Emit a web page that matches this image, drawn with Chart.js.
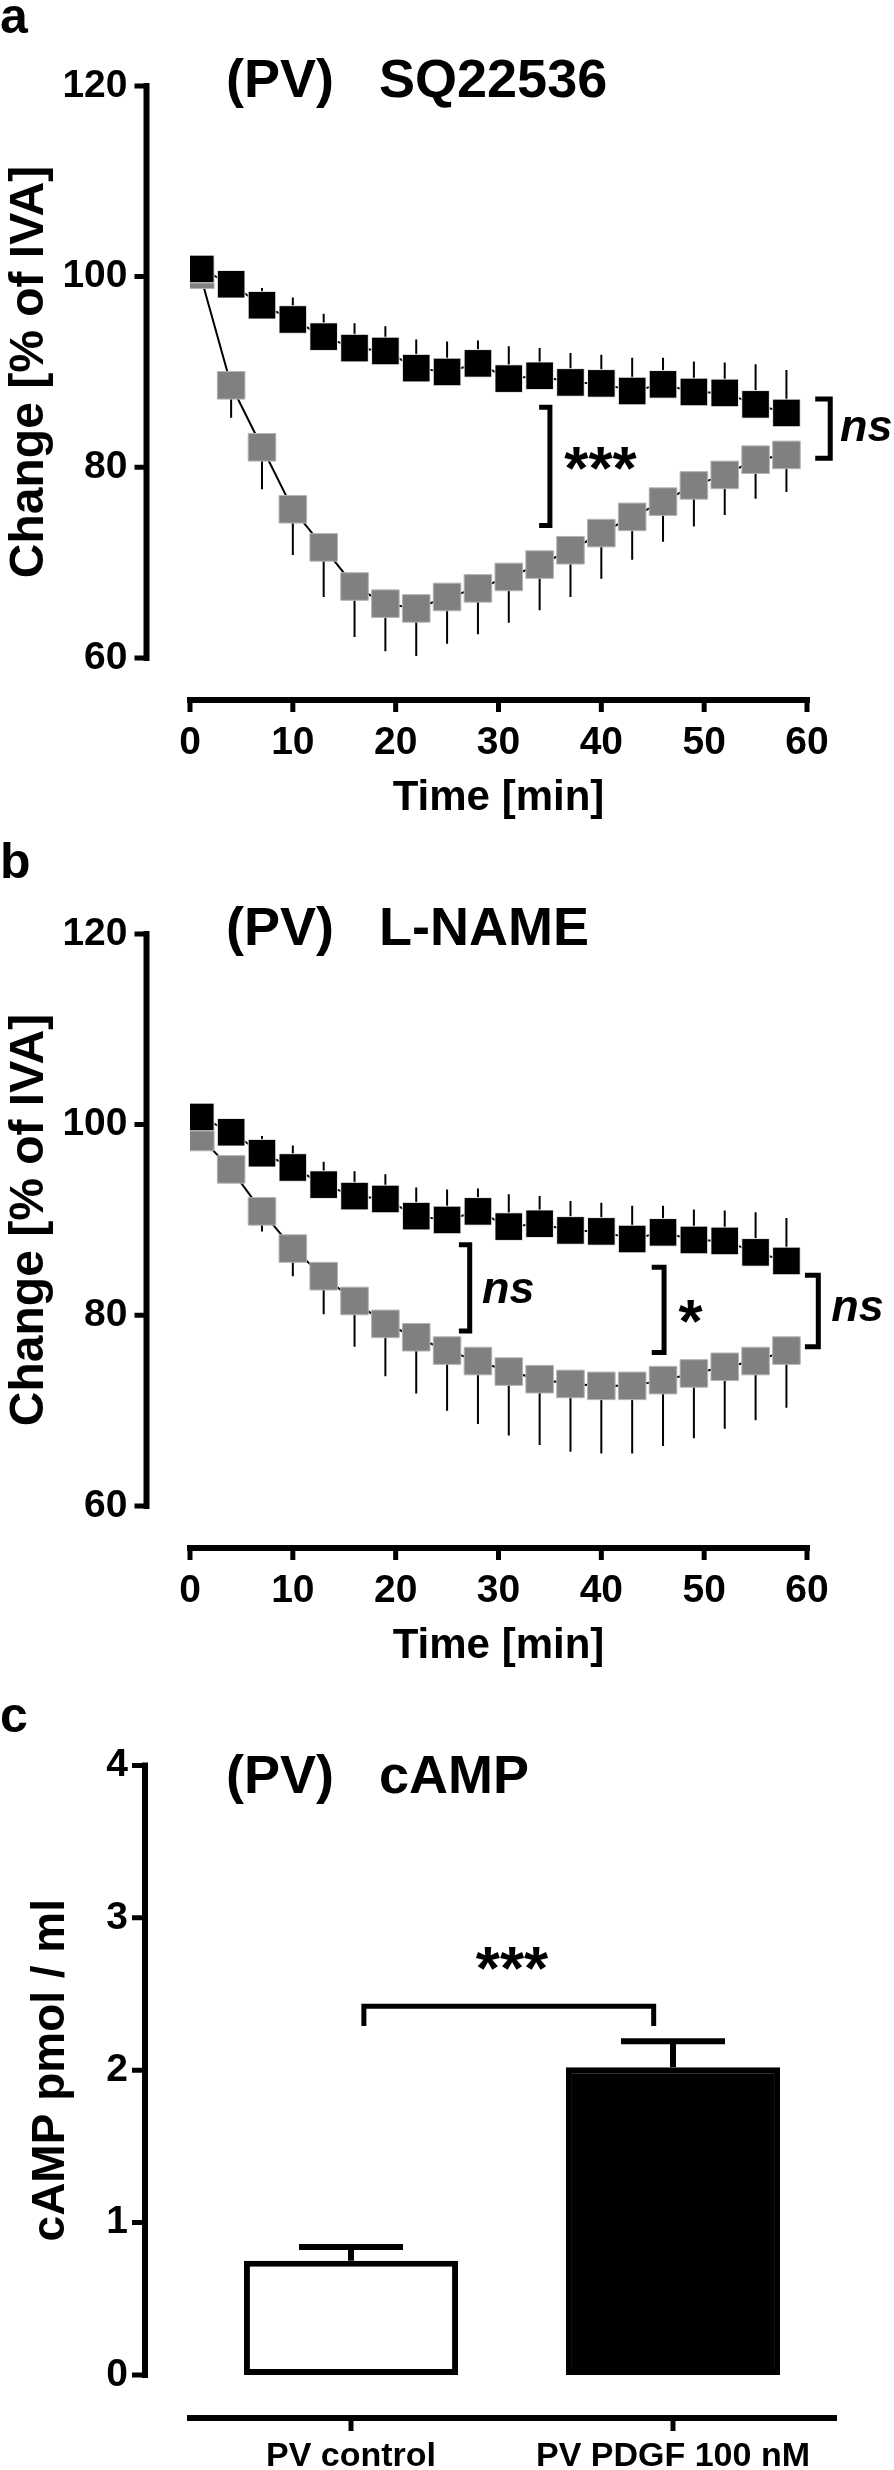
<!DOCTYPE html>
<html>
<head>
<meta charset="utf-8">
<script src="https://cdn.jsdelivr.net/npm/chart.js@4.4.1/dist/chart.umd.min.js"></script>
<style>
  html, body { margin: 0; padding: 0; background: #fff; }
  body {
    width: 894px; height: 2470px; position: relative; overflow: hidden;
    font-family: "Liberation Sans", Arial, Helvetica, sans-serif;
  }
  canvas { position: absolute; left: 0; }
  .letter, .ptitle {
    position: absolute; font-weight: bold; color: #000;
    white-space: pre; line-height: 1;
  }
  .letter { font-size: 50px; left: 0; }
  .ptitle { font-size: 54px; left: 226px; }
</style>
</head>
<body>
<div class="letter" style="top:-9px">a</div>
<div class="ptitle" style="top:51px">(PV)   SQ22536</div>
<canvas id="chartA" width="894" height="848" style="top:0"></canvas>

<div class="letter" style="top:836px">b</div>
<div class="ptitle" style="top:899px">(PV)   L-NAME</div>
<canvas id="chartB" width="894" height="848" style="top:848px"></canvas>

<div class="letter" style="top:1690px">c</div>
<div class="ptitle" style="top:1747px">(PV)   cAMP</div>
<canvas id="chartC" width="894" height="790" style="top:1680px"></canvas>

<script>
// time points [min]
const times = [1, 4, 7, 10, 13, 16, 19, 22, 25, 28, 31, 34, 37, 40, 43, 46, 49, 52, 55, 58];

// PV + PDGF (black squares, upper SEM)
const pdgfMean = [100.8, 99.2, 97.0, 95.5, 93.7, 92.5, 92.2, 90.4, 90.0, 90.9, 89.3, 89.6, 88.9, 88.8, 88.0, 88.7, 87.9, 87.8, 86.6, 85.7];
const pdgfSem = [1.0, 1.2, 1.8, 2.3, 2.4, 2.6, 2.6, 3.0, 3.2, 2.4, 3.4, 2.9, 3.1, 3.0, 3.5, 2.8, 3.2, 3.2, 4.2, 4.5];

// PDGF + SQ22536 (grey squares, lower SEM)
const sqMean = [100.2, 88.6, 82.1, 75.6, 71.6, 67.5, 65.7, 65.2, 66.4, 67.3, 68.5, 69.8, 71.3, 73.1, 74.8, 76.4, 78.1, 79.2, 80.8, 81.3];
const sqSem = [0.6, 3.4, 4.4, 4.8, 5.2, 5.3, 5.0, 5.0, 4.9, 4.8, 4.8, 4.8, 4.9, 4.8, 4.5, 4.2, 4.3, 4.2, 4.1, 3.9];

// PDGF + L-NAME (grey squares, lower SEM)
const lnameMean = [98.7, 95.3, 90.9, 87.0, 84.1, 81.5, 79.1, 77.7, 76.3, 75.2, 74.1, 73.3, 72.8, 72.6, 72.6, 73.2, 73.9, 74.6, 75.2, 76.3];
const lnameSem = [0.8, 1.2, 2.1, 2.9, 4.0, 4.8, 5.5, 5.9, 6.3, 6.6, 6.7, 6.9, 7.1, 7.1, 7.1, 6.9, 6.8, 6.5, 6.2, 6.0];

// cAMP bars
const campGroups = ["PV control", "PV PDGF 100 nM"];
const campMean = [0.75, 2.02];
const campSem = [0.09, 0.17];

// y ticks
const changeTicks = [60, 80, 100, 120];
const campTicks = [0, 1, 2, 3, 4];

// common font
Chart.defaults.font.family = '"Liberation Sans", Arial, Helvetica, sans-serif';
Chart.defaults.font.weight = "bold";
Chart.defaults.color = "#000";

// Prism style offset axes
const offsetAxes = {
  id: "offsetAxes",
  afterDraw(chart, args, opts) {
    const { ctx, chartArea, scales } = chart;
    const xs = scales.x;
    const ys = scales.y;
    const axisX = chartArea.left - opts.yGap;
    const axisY = chartArea.bottom + opts.xGap;
    const hw = opts.lineWidth / 2;
    ctx.save();
    ctx.strokeStyle = "#000";
    ctx.lineWidth = opts.lineWidth;
    ctx.beginPath();
    ctx.moveTo(axisX, ys.getPixelForValue(ys.max) - hw);
    ctx.lineTo(axisX, ys.getPixelForValue(ys.min) + hw);
    ctx.moveTo(chartArea.left - hw, axisY);
    ctx.lineTo(chartArea.right + hw, axisY);
    ctx.stroke();
    ctx.lineWidth = opts.tickWidth;
    ctx.beginPath();
    ys.ticks.forEach((t) => {
      const py = ys.getPixelForValue(t.value);
      ctx.moveTo(axisX - opts.tickLen, py);
      ctx.lineTo(axisX, py);
    });
    xs.ticks.forEach((t, i) => {
      const px = xs.getPixelForTick(i);
      ctx.moveTo(px, axisY);
      ctx.lineTo(px, axisY + opts.tickLen);
    });
    ctx.stroke();
    ctx.restore();
  },
};

// one-sided error bars (dataset.errors / errorDir)
const errorBars = {
  id: "errorBars",
  beforeDatasetsDraw(chart) {
    const { ctx } = chart;
    const ys = chart.scales.y;
    chart.data.datasets.forEach((ds, i) => {
      if (!ds.errors) return;
      const meta = chart.getDatasetMeta(i);
      ctx.save();
      ctx.strokeStyle = "#000";
      ctx.lineWidth = ds.errorWidth;
      ctx.beginPath();
      meta.data.forEach((el, j) => {
        const d = ds.data[j];
        const v = typeof d === "object" ? d.y : d;
        const end = ys.getPixelForValue(v + ds.errorDir * ds.errors[j]);
        ctx.moveTo(el.x, el.y);
        ctx.lineTo(el.x, end);
        if (ds.errorCap) {
          ctx.moveTo(el.x - ds.errorCap, end);
          ctx.lineTo(el.x + ds.errorCap, end);
        }
      });
      ctx.stroke();
      ctx.restore();
    });
  },
};

// significance brackets and labels
const sigMarks = {
  id: "sigMarks",
  afterDatasetsDraw(chart, args, opts) {
    const { ctx } = chart;
    const xs = chart.scales.x;
    const ys = chart.scales.y;
    ctx.save();
    ctx.strokeStyle = "#000";
    ctx.fillStyle = "#000";
    ctx.lineWidth = opts.lineWidth || 5;
    ctx.lineJoin = "miter";
    (opts.brackets || []).forEach((b) => {
      ctx.beginPath();
      if (b.horizontal) {
        const x1 = xs.getPixelForValue(b.x1);
        const x2 = xs.getPixelForValue(b.x2);
        const y = ys.getPixelForValue(b.y);
        const yl = ys.getPixelForValue(b.leg);
        ctx.moveTo(x1, yl);
        ctx.lineTo(x1, y);
        ctx.lineTo(x2, y);
        ctx.lineTo(x2, yl);
      } else {
        const x = xs.getPixelForValue(b.x);
        const xa = xs.getPixelForValue(b.arm);
        const y1 = ys.getPixelForValue(b.y1);
        const y2 = ys.getPixelForValue(b.y2);
        ctx.moveTo(xa, y1);
        ctx.lineTo(x, y1);
        ctx.lineTo(x, y2);
        ctx.lineTo(xa, y2);
      }
      ctx.stroke();
    });
    (opts.labels || []).forEach((l) => {
      ctx.font = l.font;
      ctx.textAlign = l.align || "left";
      ctx.textBaseline = "alphabetic";
      const m = ctx.measureText(l.text);
      const cy = ys.getPixelForValue(l.y);
      const base = cy + (m.actualBoundingBoxAscent - m.actualBoundingBoxDescent) / 2;
      ctx.fillText(l.text, xs.getPixelForValue(l.x), base);
    });
    ctx.restore();
  },
};

const FONT_NS = 'italic bold 45px "Liberation Sans", Arial, sans-serif';
const FONT_STAR = 'bold 62px "Liberation Sans", Arial, sans-serif';

function toPoints(values) {
  return values.map((v, i) => ({ x: times[i], y: v }));
}

// time course panel (a, b)
function drawTimeCourse(canvasId, treatedMean, treatedSem, marks) {
  const ctx = document.getElementById(canvasId);
  return new Chart(ctx, {
    type: "scatter",
    data: {
      datasets: [
        {
          label: "PV PDGF",
          data: toPoints(pdgfMean),
          errors: pdgfSem,
          errorDir: 1,
          errorWidth: 2,
          showLine: true,
          borderColor: "#000",
          borderWidth: 2,
          pointStyle: "rect",
          pointRadius: 19.5,
          pointBackgroundColor: "#000",
          pointBorderColor: "rgba(255,255,255,0.85)",
          pointBorderWidth: 1,
        },
        {
          label: "PV PDGF + inhibitor",
          data: toPoints(treatedMean),
          errors: treatedSem,
          errorDir: -1,
          errorWidth: 2,
          showLine: true,
          borderColor: "#000",
          borderWidth: 2,
          pointStyle: "rect",
          pointRadius: 19.5,
          pointBackgroundColor: "#808080",
          pointBorderColor: "#b4b4b4",
          pointBorderWidth: 1,
        },
      ],
    },
    options: {
      responsive: false,
      animation: false,
      devicePixelRatio: 1,
      layout: { padding: { top: 39, left: 0, right: 87, bottom: 29 } },
      plugins: {
        legend: { display: false },
        tooltip: { enabled: false },
        offsetAxes: { yGap: 43.5, xGap: 42, lineWidth: 6, tickWidth: 5, tickLen: 12 },
        sigMarks: marks,
      },
      scales: {
        x: {
          type: "linear",
          min: 0,
          max: 60,
          ticks: { stepSize: 10, padding: 61.7, font: { size: 39 } },
          grid: { display: false, drawTicks: false },
          border: { display: false },
          title: { display: true, text: "Time [min]", font: { size: 42, lineHeight: 1 }, padding: 0 },
          afterFit: (s) => { s.height = 161; },
        },
        y: {
          min: 60,
          max: 120,
          afterBuildTicks: (s) => { s.ticks = changeTicks.map((v) => ({ value: v })); },
          ticks: { padding: 62.5, font: { size: 39 } },
          grid: { display: false, drawTicks: false },
          border: { display: false },
          title: {
            display: true,
            text: "Change [% of IVA]",
            font: { size: 48, lineHeight: 1 },
            padding: { top: 5.5, bottom: 0 },
          },
          afterFit: (s) => { s.width = 190; },
        },
      },
    },
    plugins: [offsetAxes, errorBars, sigMarks],
  });
}

drawTimeCourse("chartA", sqMean, sqSem, {
  brackets: [
    { x: 35.0, arm: 33.95, y1: 86.3, y2: 73.9 },
    { x: 62.26, arm: 60.8, y1: 87.15, y2: 80.95 },
  ],
  labels: [
    { text: "***", x: 36.4, y: 80.9, font: FONT_STAR },
    { text: "ns", x: 63.2, y: 84.0, font: FONT_NS },
  ],
});

drawTimeCourse("chartB", lnameMean, lnameSem, {
  brackets: [
    { x: 27.2, arm: 26.15, y1: 87.4, y2: 78.35 },
    { x: 46.1, arm: 44.9, y1: 85.05, y2: 76.1 },
    { x: 61.1, arm: 59.8, y1: 84.2, y2: 76.7 },
  ],
  labels: [
    { text: "ns", x: 28.4, y: 82.6, font: FONT_NS },
    { text: "*", x: 47.5, y: 80.4, font: FONT_STAR },
    { text: "ns", x: 62.35, y: 80.7, font: FONT_NS },
  ],
});

// cAMP bar panel (c)
new Chart(document.getElementById("chartC"), {
  type: "bar",
  data: {
    labels: campGroups,
    datasets: [
      {
        data: campMean,
        errors: campSem,
        errorDir: 1,
        errorWidth: 6,
        errorCap: 52,
        backgroundColor: ["#fff", "#000"],
        borderColor: "#000",
        borderWidth: 6,
        borderSkipped: false,
        barPercentage: 0.665,
        categoryPercentage: 1,
      },
    ],
  },
  options: {
    responsive: false,
    animation: false,
    devicePixelRatio: 1,
    layout: { padding: { top: 53, left: 0, right: 60, bottom: 0 } },
    plugins: {
      legend: { display: false },
      tooltip: { enabled: false },
      offsetAxes: { yGap: 45, xGap: 43, lineWidth: 6, tickWidth: 5, tickLen: 13 },
      sigMarks: {
        brackets: [{ horizontal: true, x1: 0.04, x2: 0.94, y: 2.42, leg: 2.29 }],
        labels: [{ text: "***", x: 0.5, y: 2.73, font: FONT_STAR, align: "center" }],
      },
    },
    scales: {
      x: {
        ticks: { padding: 61, font: { size: 34 } },
        grid: { display: false, drawTicks: false },
        border: { display: false },
        afterFit: (s) => { s.height = 95; },
      },
      y: {
        min: 0,
        max: 4,
        afterBuildTicks: (s) => { s.ticks = campTicks.map((v) => ({ value: v })); },
        ticks: { padding: 62, font: { size: 39 } },
        grid: { display: false, drawTicks: false },
        border: { display: false },
        title: {
          display: true,
          text: "cAMP pmol / ml",
          font: { size: 46, lineHeight: 1 },
          padding: { top: 28.5, bottom: 0 },
        },
        afterFit: (s) => { s.width = 190; },
      },
    },
  },
  plugins: [offsetAxes, errorBars, sigMarks],
});
</script>
</body>
</html>
